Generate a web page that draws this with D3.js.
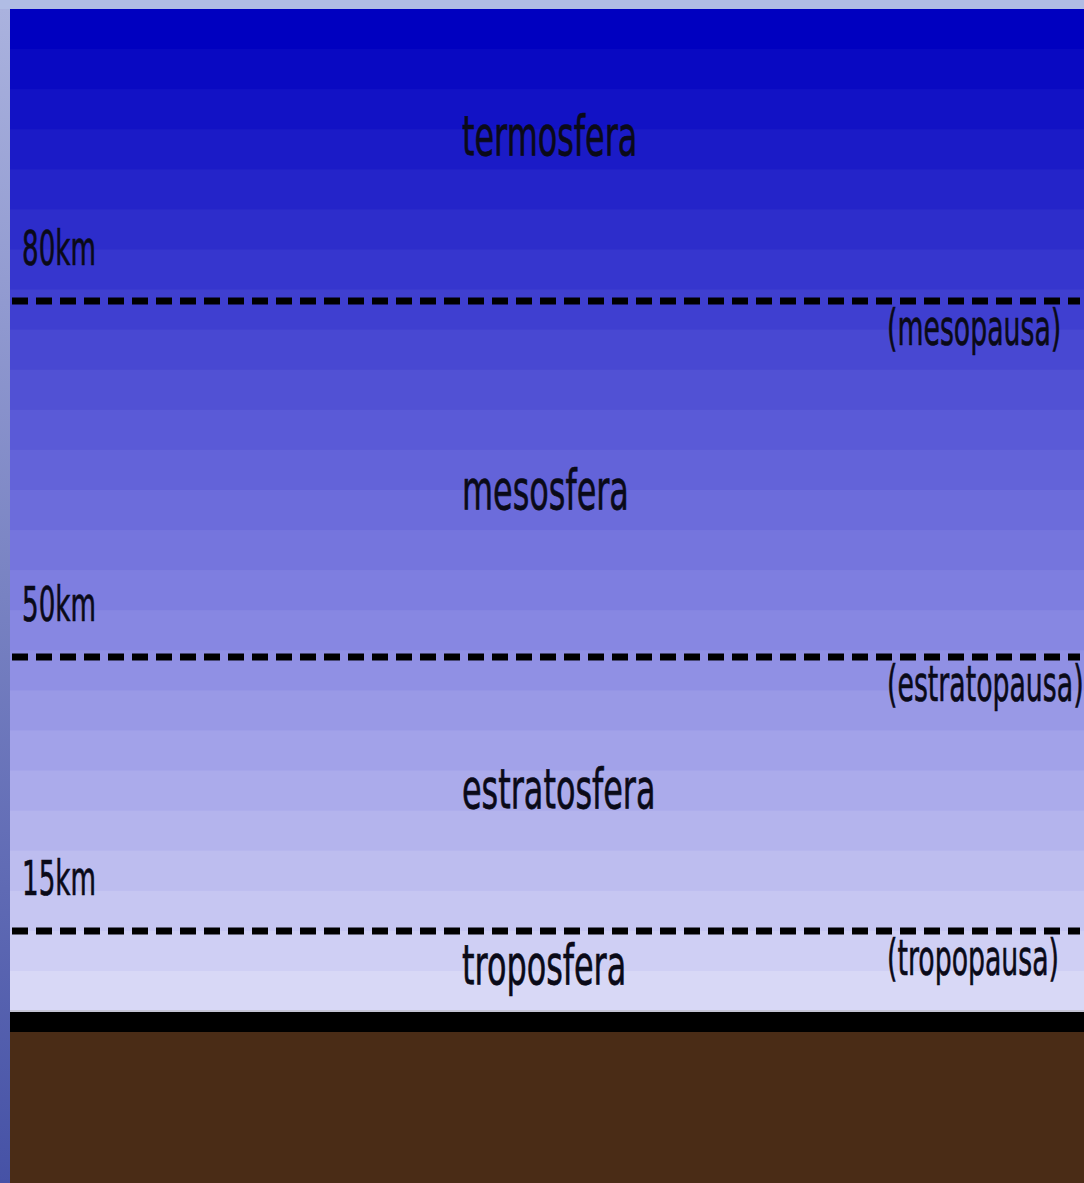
<!DOCTYPE html>
<html>
<head>
<meta charset="utf-8">
<script src="https://cdn.jsdelivr.net/npm/d3@7"></script>
<style>
	body { margin: 0; background: #b0bce4; }
	text { font-family: "DejaVu Sans", sans-serif; fill: #0a0a18; stroke: #0a0a18; stroke-width: 0.7; }
</style>
</head>
<body>
<div class="atmosphere"></div>
<script>

// layer boundaries (km) and their labels
const boundaries = [80, 50, 15];
const boundaryLabels = ["80km", "50km", "15km"];
const pauseLabels = ["(mesopausa)", "(estratopausa)", "(tropopausa)"];

// layers and the altitude where their name sits
const layers = ["termosfera", "mesosfera", "estratosfera", "troposfera"];
const layerLabelKm = [95, 62.5, 30.7, 5];

const width = 1084;
const height = 1183;
const skyLeft = 10;
const skyTop = 9;
const ground = 1011;

// schematic altitude scale, not linear across layers
const y = d3.scaleLinear()
	.domain([0, 15, 50, 80, 110])
	.range([ground, 931, 657, 301, skyTop]);

const svg = d3.select(".atmosphere")
	.append("svg")
		.attr("width", width)
		.attr("height", height)
		.style("display", "block");

// frame strips
const frameGrad = svg.append("defs")
	.append("linearGradient")
		.attr("id", "frame")
		.attr("x1", 0).attr("x2", 0).attr("y1", 0).attr("y2", 1);
frameGrad.append("stop").attr("offset", 0).attr("stop-color", "#aab2de");
frameGrad.append("stop").attr("offset", 1).attr("stop-color", "#4652a6");

svg.append("rect")
	.attr("width", width).attr("height", skyTop)
	.attr("fill", "#b0bce4");
svg.append("rect")
	.attr("y", skyTop).attr("width", skyLeft).attr("height", height - skyTop)
	.attr("fill", "url(#frame)");

// banded sky
const bands = 25;
const bandH = (ground - skyTop) / bands;
const skyColor = d3.interpolateRgb("#0000c0", "#d8d8f6");
svg.append("g")
	.selectAll("rect")
		.data(d3.range(bands)).enter()
	.append("rect")
		.attr("x", skyLeft)
		.attr("y", (d) => skyTop + d * bandH)
		.attr("width", width - skyLeft)
		.attr("height", bandH + 1)
		.attr("fill", (d) => skyColor(d / (bands - 1)));

// ground
svg.append("rect")
	.attr("x", skyLeft).attr("y", ground - 1)
	.attr("width", width - skyLeft).attr("height", 2)
	.attr("fill", "#c4c4d4");
svg.append("rect")
	.attr("x", skyLeft).attr("y", ground + 1)
	.attr("width", width - skyLeft).attr("height", 20)
	.attr("fill", "#000");
svg.append("rect")
	.attr("x", skyLeft).attr("y", ground + 21)
	.attr("width", width - skyLeft).attr("height", height - ground - 21)
	.attr("fill", "#4a2c16");

// boundaries
const bound = svg.append("g")
	.selectAll(".boundary")
		.data(boundaries).enter()
	.append("g")
		.attr("class", "boundary")
		.attr("transform", (d) => `translate(0,${y(d)})`);

bound.append("line")
	.attr("x1", 12)
	.attr("x2", 1080)
	.attr("stroke", "#000")
	.attr("stroke-width", 7)
	.attr("stroke-dasharray", "16 8");

bound.append("text")
	.attr("transform", "translate(22,-36) scale(0.545,1)")
	.attr("font-size", 48)
	.text((d, i) => boundaryLabels[i]);

bound.append("text")
	.attr("transform", "translate(887,44) scale(0.535,1)")
	.attr("font-size", 50)
	.text((d, i) => pauseLabels[i]);

// layer names
svg.append("g")
	.selectAll(".layer")
		.data(layers).enter()
	.append("text")
		.attr("class", "layer")
		.attr("font-size", 55)
		.attr("transform", (d, i) => `translate(462,${y(layerLabelKm[i])}) scale(0.58,1)`)
		.text((d) => d);

</script>
</body>
</html>
